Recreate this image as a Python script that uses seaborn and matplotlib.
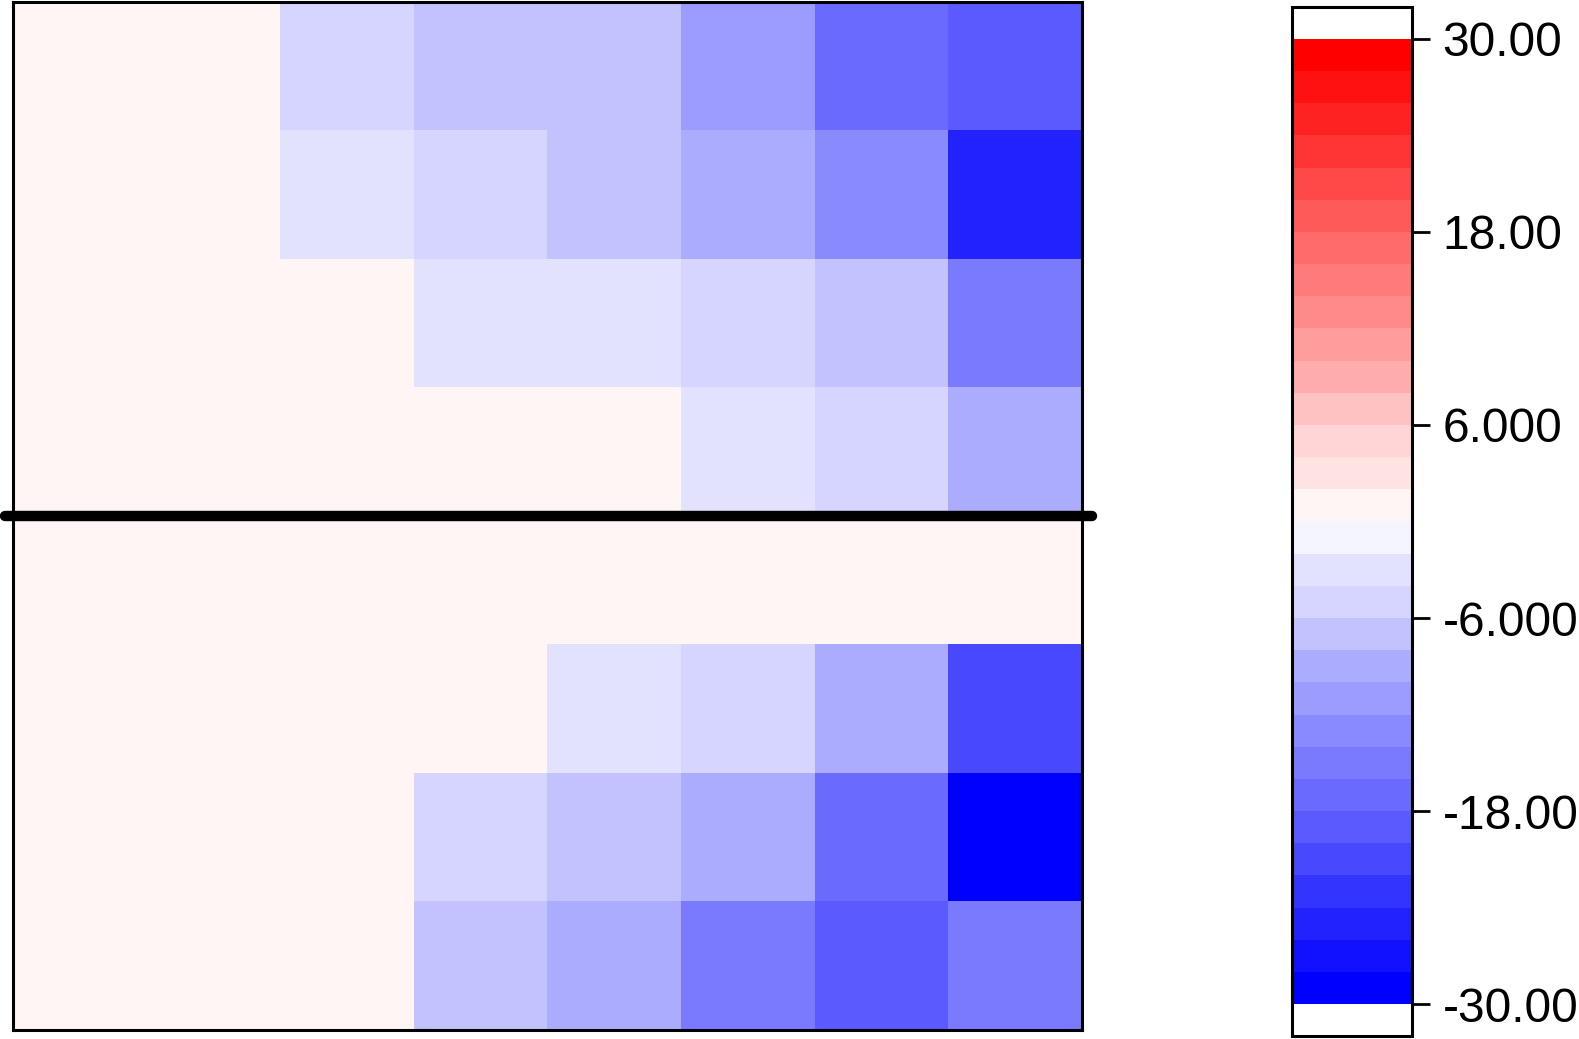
import numpy as np
import pandas as pd
import matplotlib
matplotlib.use("Agg")
import matplotlib.pyplot as plt
from matplotlib.colors import ListedColormap
import seaborn as sns

row1 = [1, 1, -5, -7, -7, -11, -17, -19]
row2 = [1, 1, -3, -5, -7, -9, -13, -25]
row3 = [1, 1, 1, -3, -3, -5, -7, -15]
row4 = [1, 1, 1, 1, 1, -3, -5, -9]
row5 = [1, 1, 1, 1, 1, 1, 1, 1]
row6 = [1, 1, 1, 1, -3, -5, -9, -21]
row7 = [1, 1, 1, -5, -7, -9, -17, -29]
row8 = [1, 1, 1, -7, -9, -15, -19, -15]
split_row = 4  # thick line between the upper and lower block

cbar_ticks = [-30, -18, -6, 6, 18, 30]
cbar_labels = ["-30.00", "-18.00", "-6.000", "6.000", "18.00", "30.00"]

df = pd.DataFrame([row1, row2, row3, row4, row5, row6, row7, row8])

# blue -> white -> red, 15 shades on each side (2 units per shade)
shade = [0, 17, 34, 52, 72, 90, 106, 122, 138, 156, 172, 194, 213, 226, 245]
blues = [(s / 255, s / 255, 1.0) for s in shade]
reds = [(1.0, s / 255, s / 255) for s in shade[::-1]]
cmap = ListedColormap(blues + reds)
cmap.set_under("white")
cmap.set_over("white")

plt.rcParams["font.family"] = ["Liberation Sans", "DejaVu Sans"]

fig = plt.figure(figsize=(15.79, 10.39), dpi=100)
ax = fig.add_axes([0.0080, 0.0087, 0.6772, 0.9894])
cax = fig.add_axes([0.8182, 0.0029, 0.0760, 0.9904])

sns.heatmap(df, ax=ax, cbar_ax=cax, cmap=cmap, vmin=-30, vmax=30,
            xticklabels=False, yticklabels=False,
            cbar_kws={"extend": "both", "extendrect": True,
                      "extendfrac": 0.033, "ticks": cbar_ticks})

for sp in ax.spines.values():
    sp.set_visible(True)
    sp.set_linewidth(2.2)
    sp.set_color("black")
ax.tick_params(left=False, bottom=False)

# separator line, a bit wider than the axes
ax.axhline(split_row, xmin=-0.007, xmax=1.009, color="black", lw=7.5,
           solid_capstyle="round", clip_on=False, zorder=5)

cb = ax.collections[0].colorbar
cb.outline.set_linewidth(2.2)
cb.outline.set_edgecolor("black")
cb.set_ticks(cbar_ticks)
cb.set_ticklabels(cbar_labels)
cax.tick_params(labelsize=34.5, length=13, width=2, pad=9, color="black")

fig.savefig("out.png", dpi=100)
